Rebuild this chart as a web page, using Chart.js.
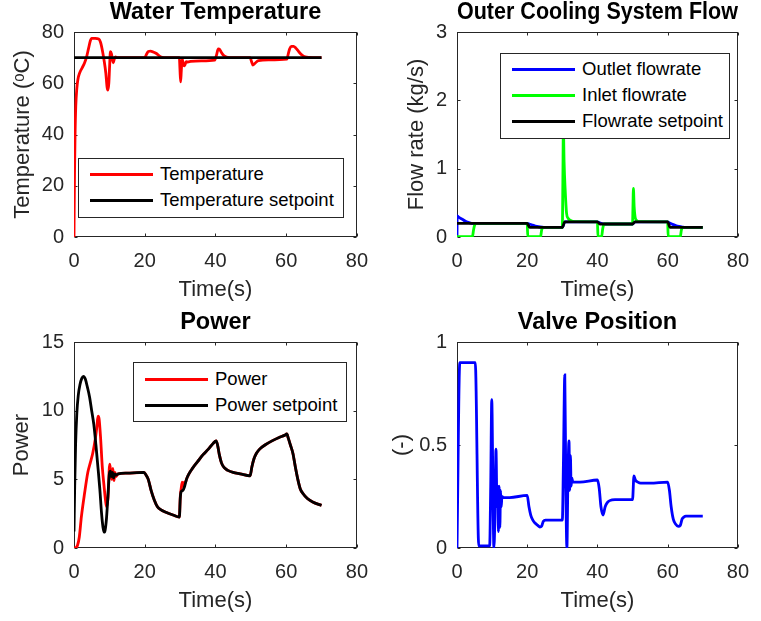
<!DOCTYPE html>
<html>
<head>
<meta charset="utf-8">
<script src="https://cdn.jsdelivr.net/npm/chart.js@4.4.1/dist/chart.umd.min.js"></script>
<style>
html,body{margin:0;padding:0;background:#fff;}
#fig{position:relative;width:761px;height:621px;overflow:hidden;background:#fff;}
canvas{position:absolute;}
.legend{position:absolute;box-sizing:border-box;border:1px solid #262626;background:#fff;font-family:'Liberation Sans',Arial,Helvetica,sans-serif;font-size:18.5px;color:#000;}
.legend .row{display:flex;align-items:center;height:26px;white-space:nowrap;}
.legend .swatch{height:3px;width:63px;margin-left:11px;margin-right:7px;flex:none;}
</style>
</head>
<body>
<div id="fig">
<canvas id="c1" width="380" height="310" style="left:0;top:0"></canvas>
<canvas id="c2" width="381" height="310" style="left:380px;top:0"></canvas>
<canvas id="c3" width="380" height="311" style="left:0;top:310px"></canvas>
<canvas id="c4" width="381" height="311" style="left:380px;top:310px"></canvas>
</div>
<script>
// ---------------- data ----------------
const timeTicks = [0, 20, 40, 60, 80];
const tempTicks = [0, 20, 40, 60, 80];
const flowTicks = [0, 1, 2, 3];
const powerTicks = [0, 5, 10, 15];
const valveTicks = [0, 0.5, 1];

// Water temperature
const tempTime = [0, 0.05, 0.15, 0.3, 0.5, 0.8, 1.1, 1.6, 2.3, 3.0, 3.6, 4.1, 4.6, 5.0, 6.0, 7.0, 7.5, 8.0, 8.5, 9.0, 9.35, 9.6, 9.85, 10.05, 10.3, 10.6, 10.9, 11.1, 11.4, 11.7, 12.2, 15, 20, 20.5, 21, 21.6, 22.4, 23.3, 24.2, 25, 26, 29.8, 29.95, 30.15, 30.35, 30.6, 30.9, 31.3, 31.7, 32.2, 33, 36, 39.8, 40.3, 40.8, 41.2, 41.6, 42.2, 42.8, 43.5, 45, 49.8, 50.2, 50.6, 51.0, 51.5, 52.2, 55, 60.2, 60.6, 61.0, 61.5, 62.1, 62.7, 63.3, 64.0, 64.7, 65.4, 66.5, 70];
const tempValues = [0, 10, 25, 40, 51, 58, 61.5, 64, 66, 68, 70.5, 73.5, 76.5, 77.5, 77.5, 77.3, 76, 73, 69, 64, 58.5, 57.3, 60, 66, 72.3, 71.5, 69, 68, 69.5, 70.3, 70, 70, 70, 71.3, 72.4, 72.5, 72.2, 71.6, 70.6, 70.1, 70, 70, 66, 60.5, 65, 69.5, 67.5, 66.8, 68.4, 68.3, 68.5, 68.7, 69, 71, 73.4, 73.2, 72.2, 71, 70.4, 70.1, 70, 70, 68.5, 67.1, 67.5, 68.2, 68.8, 69.1, 69.4, 71.5, 73.5, 74.4, 74.4, 73.8, 72.8, 71.6, 70.8, 70.3, 70.1, 70];
const tempSetTime = [0, 70];
const tempSetValues = [70, 70];

// Outer cooling system flow
const flowOutTime = [0, 0.05, 0.3, 0.8, 1.5, 2.3, 3.2, 4.2, 20, 20.6, 21.4, 22.3, 23.2, 24.2, 25, 30, 30.7, 40, 40.5, 41.2, 42, 50, 50.7, 60, 60.6, 61.4, 62.3, 63.2, 64.2, 65, 70];
const flowOutValues = [0, 0.31, 0.3, 0.28, 0.26, 0.235, 0.215, 0.2, 0.2, 0.19, 0.175, 0.16, 0.15, 0.143, 0.14, 0.14, 0.22, 0.22, 0.212, 0.198, 0.19, 0.19, 0.22, 0.22, 0.205, 0.185, 0.168, 0.155, 0.145, 0.14, 0.14];
const flowInTime = [0, 4.4, 4.7, 5.0, 5.4, 20, 20.15, 23.8, 24.1, 24.5, 30, 30.15, 30.3, 30.5, 30.8, 31.2, 31.7, 32.4, 33.5, 40, 40.15, 40.6, 41.2, 41.5, 41.9, 50, 50.1, 50.25, 50.45, 50.7, 51.1, 51.8, 60, 60.15, 63.6, 63.9, 64.3, 70];
const flowInValues = [0.005, 0.005, 0.1, 0.17, 0.2, 0.2, 0.005, 0.005, 0.1, 0.14, 0.14, 0.8, 1.6, 1.1, 0.7, 0.35, 0.27, 0.24, 0.225, 0.22, 0.005, 0.005, 0.01, 0.12, 0.19, 0.19, 0.4, 0.71, 0.45, 0.3, 0.245, 0.225, 0.22, 0.005, 0.005, 0.1, 0.14, 0.14];
const flowSetTime = [0, 20, 20.7, 30, 30.7, 40, 40.7, 50, 50.7, 60, 60.7, 70];
const flowSetValues = [0.2, 0.2, 0.14, 0.14, 0.22, 0.22, 0.19, 0.19, 0.22, 0.22, 0.14, 0.14];

// Power
const powerTime = [0, 0.5, 1.0, 1.5, 2.1, 3.0, 3.9, 4.6, 5.3, 6.0, 6.5, 6.8, 7.1, 7.5, 8.0, 8.5, 8.9, 9.2, 9.6, 10.1, 10.4, 10.7, 11.0, 11.3, 11.6, 11.9, 12.5, 15, 19.8, 20.4, 21.0, 21.8, 22.7, 23.6, 24.5, 26, 28, 29.8, 30.05, 30.3, 30.6, 30.9, 31.2, 31.5, 31.8, 32.5, 33.5, 35, 36.5, 38, 39.3, 40.2, 40.6, 41.1, 41.7, 42.5, 43.5, 45, 47, 49.8, 50.3, 50.9, 51.6, 52.5, 54, 56, 58, 59.5, 60.2, 60.6, 61.2, 61.9, 62.6, 63.3, 64.0, 64.8, 66, 67.5, 70];
const powerValues = [0, 0.02, 0.2, 0.8, 2.3, 4.0, 5.5, 6.2, 6.9, 7.9, 8.9, 9.6, 9.4, 8.1, 5.9, 4.5, 3.5, 3.0, 3.6, 6.1, 5.5, 5.0, 5.8, 4.9, 5.5, 5.2, 5.4, 5.45, 5.5, 5.3, 5.0, 4.2, 3.5, 3.0, 2.8, 2.6, 2.4, 2.25, 3.7, 4.3, 4.8, 4.5, 4.8, 4.75, 5.0, 5.4, 5.8, 6.3, 6.8, 7.2, 7.6, 7.8, 7.5, 6.8, 6.2, 5.85, 5.65, 5.5, 5.4, 5.25, 5.9, 6.5, 6.9, 7.2, 7.5, 7.8, 8.05, 8.2, 8.3, 8.0, 7.5, 6.9, 5.9, 5.0, 4.3, 3.95, 3.6, 3.35, 3.1];
const powerSetTime = [0, 0.2, 0.45, 0.8, 1.2, 1.7, 2.2, 2.7, 3.2, 3.8, 4.4, 5.0, 5.6, 6.2, 6.8, 7.3, 7.8, 8.2, 8.5, 8.8, 9.2, 9.6, 10.0, 10.3, 10.6, 10.9, 11.2, 11.5, 11.9, 12.5, 15, 19.8, 20.4, 21.0, 21.8, 22.7, 23.6, 24.5, 26, 28, 29.8, 30.05, 30.3, 30.8, 31.3, 31.8, 32.5, 33.5, 35, 36.5, 38, 39.3, 40.2, 40.6, 41.1, 41.7, 42.5, 43.5, 45, 47, 49.8, 50.3, 50.9, 51.6, 52.5, 54, 56, 58, 59.5, 60.2, 60.6, 61.2, 61.9, 62.6, 63.3, 64.0, 64.8, 66, 67.5, 70];
const powerSetValues = [1.2, 4.5, 7.5, 9.8, 11.1, 11.9, 12.35, 12.5, 12.3, 11.7, 11.0, 10.0, 9.0, 7.5, 5.8, 4.3, 2.5, 1.5, 1.15, 1.3, 2.2, 3.8, 5.4, 5.6, 5.2, 5.5, 5.1, 5.4, 5.3, 5.4, 5.45, 5.5, 5.3, 5.0, 4.2, 3.5, 3.0, 2.8, 2.6, 2.4, 2.25, 3.6, 4.1, 4.2, 4.5, 5.0, 5.4, 5.8, 6.3, 6.8, 7.2, 7.6, 7.8, 7.5, 6.8, 6.2, 5.85, 5.65, 5.5, 5.4, 5.25, 5.9, 6.5, 6.9, 7.2, 7.5, 7.8, 8.05, 8.2, 8.3, 8.0, 7.5, 6.9, 5.9, 5.0, 4.3, 3.95, 3.6, 3.35, 3.1];

// Valve position
const valveTime = [0, 0.8, 5.2, 6.2, 9.3, 9.6, 9.9, 10.2, 10.5, 10.8, 11.1, 11.4, 11.6, 11.8, 12.0, 12.2, 12.4, 12.6, 12.8, 13.2, 15, 20, 20.5, 21, 21.6, 22.3, 23, 23.6, 24.1, 24.6, 25.2, 27, 30, 30.3, 30.7, 31.0, 31.3, 31.6, 31.9, 32.1, 32.3, 32.5, 32.7, 33, 35, 40, 40.5, 41.0, 41.6, 42.2, 42.8, 43.5, 45, 50, 50.4, 50.8, 51.5, 52.3, 53.5, 55, 60, 60.5, 61, 61.6, 62.3, 63, 63.6, 64.1, 64.6, 65.2, 67, 70];
const valveValues = [0, 0.9, 0.9, 0.01, 0.01, 0.3, 0.72, 0.35, 0.0, 0.15, 0.48, 0.2, 0.3, 0.08, 0.3, 0.1, 0.28, 0.2, 0.25, 0.245, 0.245, 0.255, 0.2, 0.16, 0.135, 0.12, 0.11, 0.102, 0.106, 0.13, 0.135, 0.135, 0.135, 0.4, 0.84, 0.3, 0.0, 0.35, 0.52, 0.28, 0.45, 0.3, 0.34, 0.32, 0.32, 0.33, 0.29, 0.2, 0.16, 0.2, 0.22, 0.23, 0.235, 0.235, 0.35, 0.33, 0.32, 0.315, 0.315, 0.315, 0.32, 0.28, 0.2, 0.14, 0.115, 0.105, 0.11, 0.14, 0.15, 0.155, 0.155, 0.155];

// ---------------- rendering ----------------
const FONT = "'Liberation Sans', Arial, Helvetica, sans-serif";
Chart.defaults.font.family = FONT;
const AXIS_COLOR = '#262626';

// MATLAB-style box with inward ticks on all four sides
const boxPlugin = {
  id: 'matlabBox',
  beforeDatasetsDraw(chart) {
    const {ctx, chartArea: a, scales} = chart;
    const L = Math.round(a.left) + 0.5, R = Math.round(a.right) - 0.5;
    const T = Math.round(a.top) + 0.5, B = Math.round(a.bottom) - 0.5;
    ctx.save();
    ctx.strokeStyle = AXIS_COLOR;
    ctx.lineWidth = 1;
    ctx.strokeRect(L, T, R - L, B - T);
    ctx.beginPath();
    const tl = 3;
    scales.x.ticks.forEach(t => {
      const px = Math.round(scales.x.getPixelForValue(t.value)) + 0.5;
      ctx.moveTo(px, B); ctx.lineTo(px, B - tl);
      ctx.moveTo(px, T); ctx.lineTo(px, T + tl);
    });
    scales.y.ticks.forEach(t => {
      const py = Math.round(scales.y.getPixelForValue(t.value)) + 0.5;
      ctx.moveTo(L, py); ctx.lineTo(L + tl, py);
      ctx.moveTo(R, py); ctx.lineTo(R - tl, py);
    });
    ctx.stroke();
    ctx.restore();
  }
};

function toPoints(t, v) { return t.map((x, i) => ({x: x, y: v[i]})); }

function makeChart(id, cfg) {
  const datasets = cfg.series.map(s => ({
    label: s.label,
    data: toPoints(s.t, s.v),
    borderColor: s.color,
    backgroundColor: s.color,
    borderWidth: 2.8,
    pointRadius: 0,
    fill: false,
    cubicInterpolationMode: 'monotone',
    order: s.order
  }));
  const tickList = cfg.yTicks;
  return new Chart(document.getElementById(id), {
    type: 'line',
    data: {datasets},
    options: {
      responsive: false,
      animation: false,
      devicePixelRatio: 1,
      layout: {padding: {left: 0, right: cfg.padRight, top: 0, bottom: 7}},
      plugins: {
        legend: {display: false},
        tooltip: {enabled: false},
        title: {
          display: true, text: cfg.title, fullSize: false, color: '#000',
          font: {size: 23.5, weight: 'bold', lineHeight: 1},
          padding: {top: 1, bottom: 7.5}
        }
      },
      scales: {
        x: {
          type: 'linear', min: timeTicks[0], max: timeTicks[timeTicks.length - 1],
          afterBuildTicks: s => { s.ticks = timeTicks.map(v => ({value: v})); },
          grid: {display: false, drawTicks: false, tickLength: 0},
          border: {display: false},
          ticks: {font: {size: 20, lineHeight: 1.2}, color: AXIS_COLOR, padding: 12, maxRotation: 0, autoSkip: false, callback: v => String(v)},
          title: {display: true, text: 'Time(s)', color: AXIS_COLOR, font: {size: 22, lineHeight: 1.2}, padding: {top: 0, bottom: 0}},
          afterFit: s => { s.height = 66; }
        },
        y: {
          type: 'linear', min: tickList[0], max: tickList[tickList.length - 1],
          afterBuildTicks: s => { s.ticks = tickList.map(v => ({value: v})); },
          grid: {display: false, drawTicks: false, tickLength: 0},
          border: {display: false},
          ticks: {font: {size: 20, lineHeight: 1.2}, color: AXIS_COLOR, padding: 10, autoSkip: false, callback: v => String(v)},
          title: {display: true, text: cfg.yTitle, color: AXIS_COLOR, font: {size: 22, lineHeight: 1.2}, padding: {top: cfg.yTitlePad, bottom: 0}},
          afterFit: s => { s.width = cfg.yWidth; }
        }
      }
    },
    plugins: [boxPlugin]
  });
}

function makeLegend(box, series) {
  const d = document.createElement('div');
  d.className = 'legend';
  d.style.left = box.left + 'px';
  d.style.top = box.top + 'px';
  d.style.width = box.width + 'px';
  d.style.height = box.height + 'px';
  d.style.paddingTop = box.padTop + 'px';
  series.forEach(s => {
    const r = document.createElement('div');
    r.className = 'row';
    const sw = document.createElement('span');
    sw.className = 'swatch';
    sw.style.background = s.color;
    const tx = document.createElement('span');
    tx.textContent = s.label;
    r.appendChild(sw); r.appendChild(tx);
    d.appendChild(r);
  });
  document.getElementById('fig').appendChild(d);
}

const tempSeries = [
  {label: 'Temperature', t: tempTime, v: tempValues, color: '#ff0000', order: 1},
  {label: 'Temperature setpoint', t: tempSetTime, v: tempSetValues, color: '#000000', order: 0}
];
const flowSeries = [
  {label: 'Outlet flowrate', t: flowOutTime, v: flowOutValues, color: '#0000ff', order: 2},
  {label: 'Inlet flowrate', t: flowInTime, v: flowInValues, color: '#00ff00', order: 1},
  {label: 'Flowrate setpoint', t: flowSetTime, v: flowSetValues, color: '#000000', order: 0}
];
const powerSeries = [
  {label: 'Power', t: powerTime, v: powerValues, color: '#ff0000', order: 1},
  {label: 'Power setpoint', t: powerSetTime, v: powerSetValues, color: '#000000', order: 0}
];
const valveSeries = [
  {label: 'Valve position', t: valveTime, v: valveValues, color: '#0000ff', order: 0}
];

makeChart('c1', {title: 'Water Temperature', yTitle: 'Temperature (ᵒC)', yTicks: tempTicks, series: tempSeries, yWidth: 74, yTitlePad: 10, padRight: 14});
makeChart('c2', {title: 'Outer Cooling System Flow', yTitle: 'Flow rate (kg/s)', yTicks: flowTicks, series: flowSeries, yWidth: 77, yTitlePad: 24, padRight: 11});
makeChart('c3', {title: 'Power', yTitle: 'Power', yTicks: powerTicks, series: powerSeries, yWidth: 74, yTitlePad: 9, padRight: 14});
makeChart('c4', {title: 'Valve Position', yTitle: '(-)', yTicks: valveTicks, series: valveSeries, yWidth: 77, yTitlePad: 9, padRight: 11});

makeLegend({left: 78, top: 158, width: 266, height: 60, padTop: 2}, tempSeries);
makeLegend({left: 500, top: 53, width: 230, height: 86, padTop: 2}, flowSeries);
makeLegend({left: 133, top: 362, width: 214, height: 60, padTop: 3}, powerSeries);
</script>
</body>
</html>
